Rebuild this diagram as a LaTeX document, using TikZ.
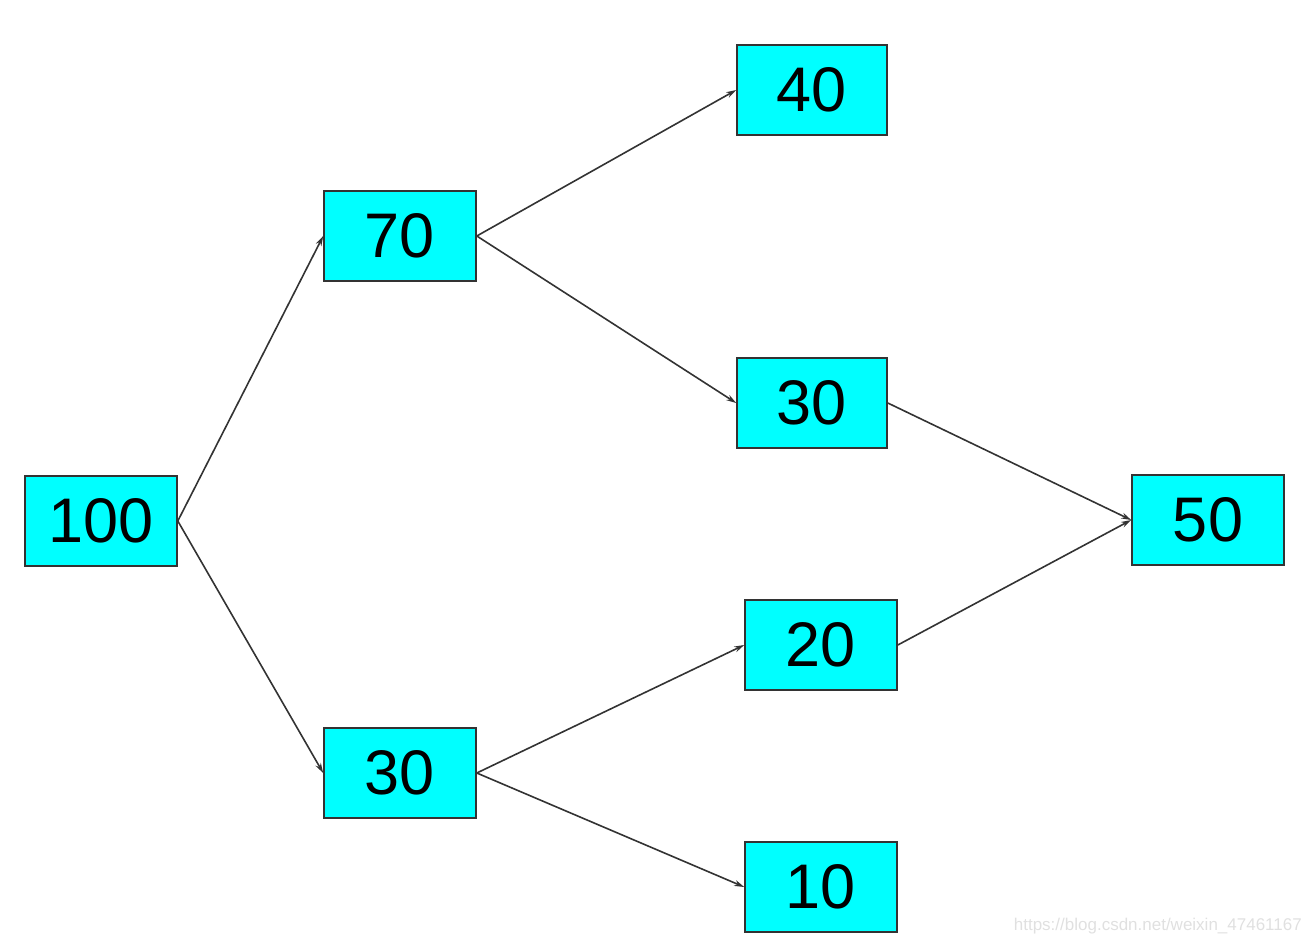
\documentclass[tikz,border=0pt]{standalone}
\usepackage{fontspec}
\setmainfont{Liberation Sans}
\usepackage{xcolor}
\usetikzlibrary{arrows.meta}
\definecolor{boxcyan}{RGB}{0,255,255}
\begin{document}
\begin{tikzpicture}[x=1pt, y=-1pt, >={Stealth[length=10pt,width=6pt]},
    numbox/.style={draw=black!80, line width=1.6pt, fill=boxcyan, minimum width=152pt, minimum height=90pt,
        inner sep=0pt, font=\fontsize{63}{68}\selectfont},
    flow/.style={->, black!80, line width=1.6pt}]
\useasboundingbox (0,0) rectangle (1310,944);
\node[numbox] (a)  at (101,521) {100};
\node[numbox] (b1) at (400,236) {70};
\node[numbox] (b2) at (400,773) {30};
\node[numbox, minimum width=150pt] (c1) at (812,90)  {40};
\node[numbox, minimum width=150pt] (c2) at (812,403) {30};
\node[numbox] (c3) at (821,645) {20};
\node[numbox] (c4) at (821,887) {10};
\node[numbox] (d)  at (1208,520) {50};
\foreach \s/\t in {a/b1, a/b2, b1/c1, b1/c2, b2/c3, b2/c4, c2/d, c3/d}{
    \draw[flow] (\s.east) -- (\t.west);
}
\node[anchor=south east, inner sep=0pt, text=black!12, font=\fontsize{17}{18}\selectfont]
    (wm) at (1302,934) {https://blog.csdn.net/weixin\_47461167};
\end{tikzpicture}
\end{document}
